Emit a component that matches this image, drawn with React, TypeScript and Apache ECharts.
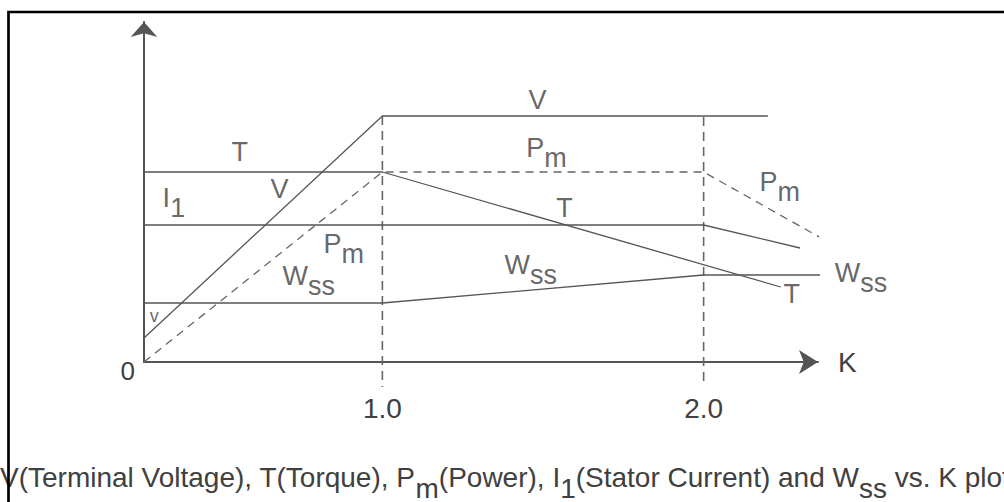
import React, { useEffect, useRef } from "react";
import * as echarts from "echarts";

// K axis range and tick labels
const kMin = 0.258;
const kMax = 2.356;
const kTickValues = [1.0, 2.0];
const yMin = 0;
const yMax = 34;
const yTickValues = [0];

// Curves: [K, relative magnitude]
const voltage = [[0.258, 2.4], [1.0, 24.6], [2.2, 24.6]];
const torque = [[0.258, 19.0], [1.0, 19.0], [2.24, 7.5]];
const power = [[0.258, 0.0], [1.0, 19.0], [2.0, 19.0], [2.36, 12.5]];
const current = [[0.258, 13.7], [2.0, 13.7], [2.3, 11.4]];
const slipSpeed = [[0.258, 5.9], [1.0, 5.9], [2.0, 8.7], [2.37, 8.7]];
const guideAt1 = [[1.0, 24.6], [1.0, -2.5]];
const guideAt2 = [[2.0, 24.5], [2.0, -2.5]];

// Curve annotations
const labelTexts = [
  "{m|T}", "{m|V}", "{m|I}{s|1}", "{m|P}{s|m}", "{m|W}{s|ss}", "{v|v}",
  "{m|V}", "{m|P}{s|m}", "{m|T}", "{m|P}{s|m}", "{m|W}{s|ss}", "{m|W}{s|ss}", "{m|T}",
];
const labelK = [0.556, 0.68, 0.351, 0.88, 0.771, 0.29, 1.483, 1.511, 1.567, 2.237, 1.462, 2.49, 2.274];
const labelV = [21.0, 17.3, 16.4, 11.8, 8.6, 4.65, 26.2, 21.45, 15.4, 18.05, 9.7, 8.95, 6.8];

const caption =
  "{a|V(Terminal Voltage), T(Torque), P}{b|m}{a|(Power), I}{b|1}{a|(Stator Current) and W}{b|ss}{a| vs. K plot}";

const FONT = "'Liberation Sans', Arial, Helvetica, sans-serif";
const TEXT = "#404040";
const LINE = "#555555";

export default function App() {
  const ref = useRef<HTMLDivElement>(null);
  useEffect(() => {
    if (!ref.current) return;
    const chart = echarts.init(ref.current, undefined, { renderer: "svg" });
    const lineSeries = (data: number[][], color: string, width: number, dash?: number[]) => ({
      type: "line",
      data,
      symbol: "none",
      showSymbol: false,
      clip: false,
      silent: true,
      lineStyle: { color, width, type: dash ? dash : "solid" },
    });
    const sub = 10;
    chart.setOption({
      animation: false,
      grid: { left: 144, right: 186, top: 22, bottom: 140 },
      xAxis: {
        type: "value",
        min: kMin,
        max: kMax,
        name: "K",
        nameLocation: "end",
        nameGap: 20,
        nameTextStyle: { fontFamily: FONT, fontSize: 28, color: TEXT, padding: [6, 0, 0, 0] },
        axisLine: { lineStyle: { color: LINE, width: 2 }, symbol: ["none", "arrow"], symbolSize: [18, 19] },
        axisTick: { show: false },
        splitLine: { show: false },
        axisLabel: {
          customValues: kTickValues,
          formatter: (v: number) => v.toFixed(1),
          fontFamily: FONT,
          fontSize: 28,
          color: TEXT,
          margin: 32,
        },
      },
      yAxis: {
        type: "value",
        min: yMin,
        max: yMax,
        axisLine: { show: true, lineStyle: { color: LINE, width: 2 }, symbol: ["none", "arrow"], symbolSize: [20, 15] },
        axisTick: { show: false },
        splitLine: { show: false },
        axisLabel: {
          customValues: yTickValues,
          formatter: (v: number) => "{z|" + String(v) + "}",
          margin: 9,
          rich: {
            z: { fontFamily: FONT, fontSize: 26, color: TEXT, padding: [17, 0, 0, 0] },
          },
        },
      },
      series: [
        lineSeries(guideAt1, "#666", 1.6, [9, 6]),
        lineSeries(guideAt2, "#666", 1.6, [9, 6]),
        lineSeries(voltage, LINE, 1.3),
        lineSeries(torque, LINE, 1.3),
        lineSeries(power, "#666", 1.3, [8, 6]),
        lineSeries(current, LINE, 1.3),
        lineSeries(slipSpeed, LINE, 1.3),
        {
          type: "scatter",
          silent: true,
          clip: false,
          symbolSize: 0.1,
          itemStyle: { color: "transparent" },
          data: labelK.map((k, i) => [k, labelV[i]]),
          label: {
            show: true,
            position: "inside",
            formatter: (p: any) => labelTexts[p.dataIndex],
            rich: {
              m: { fontFamily: FONT, fontSize: 27, color: TEXT },
              s: { fontFamily: FONT, fontSize: 27, color: TEXT, padding: [sub * 2, 0, 0, 0] },
              v: { fontFamily: FONT, fontSize: 18, color: TEXT },
            },
          },
        },
      ],
      graphic: [
        {
          type: "text",
          x: 0,
          y: 477,
          silent: true,
          style: {
            text: caption,
            verticalAlign: "middle",
            align: "left",
            rich: {
              a: { fontFamily: FONT, fontSize: 28, fill: TEXT, color: TEXT },
              b: { fontFamily: FONT, fontSize: 28, fill: TEXT, color: TEXT, padding: [22, 0, 0, 0] },
            },
          },
        },
        {
          type: "rect",
          silent: true,
          shape: { x: 8.5, y: 12, width: 1100, height: 700 },
          style: { fill: "none", stroke: "#000", lineWidth: 2.7 },
          z: 100,
        },
      ],
    });
    return () => chart.dispose();
  }, []);
  return (
    <div
      ref={ref}
      style={{ position: "fixed", left: 0, top: 0, width: 1004, height: 502, background: "#fff" }}
    />
  );
}
